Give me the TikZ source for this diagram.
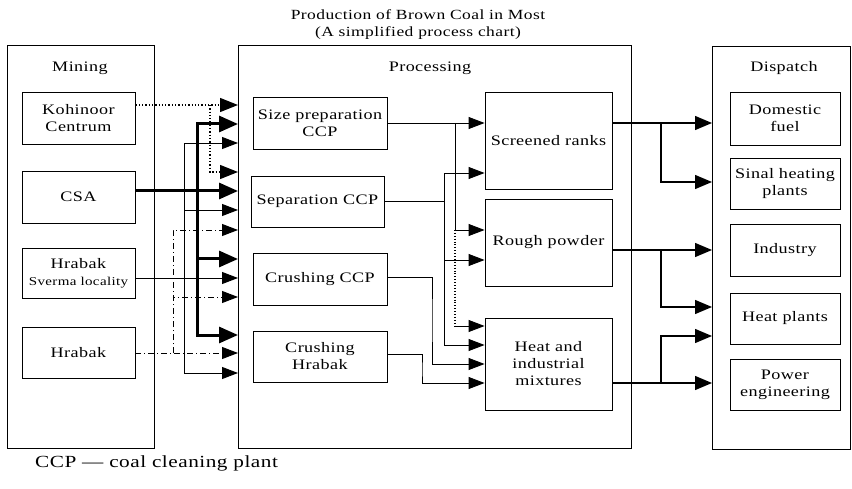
\documentclass[tikz,border=0pt]{standalone}
\usepackage{fontspec}
\setmainfont{Liberation Serif}[FakeStretch=1.25, LetterSpace=3]
\usetikzlibrary{arrows.meta}
\begin{document}
\begin{tikzpicture}[x=1pt,y=-1pt,
  txt/.style={font=\fontsize{14.5}{16}\selectfont, align=center, inner sep=0pt},
  box/.style={draw, line width=0.9pt, align=center, inner sep=0pt, font=\fontsize{14.5}{17}\selectfont},
  frame/.style={draw, line width=0.9pt},
  link/.style={line width=0.9pt, -{Triangle[length=16pt,width=12pt]}},
  plain/.style={line width=0.9pt},
  thicklink/.style={line width=3pt, -{Triangle[length=19pt,width=16pt]}},
  dotlink/.style={line width=1.3pt, dotted, -{Triangle[length=18pt,width=14pt]}},
  dashdotlink/.style={line width=0.9pt, dash pattern=on 6pt off 3pt on 1pt off 3pt, -{Triangle[length=16pt,width=12pt]}},
  outlink/.style={line width=1.3pt, -{Triangle[length=17pt,width=14pt]}}
]
\useasboundingbox (0,0) rectangle (852,489);
% title
\node[txt, font=\fontsize{14}{17}\selectfont] (title) at (418,24.5) {Production of Brown Coal in Most\\(A simplified process chart)};
% frames
\draw[frame] (7,45) rectangle (154,448);
\draw[frame] (238,45) rectangle (631,448);
\draw[frame] (712,46) rectangle (850,449);
\node[txt] (mining) at (80,68) {Mining};
\node[txt] (processing) at (430,68) {Processing};
\node[txt] (dispatch) at (784,68) {Dispatch};
% mining boxes
\node[box, minimum width=113pt, minimum height=52pt] (koh) at (78.5,118) {Kohinoor\\Centrum};
\node[box, minimum width=113pt, minimum height=52pt] (csa) at (78.5,197) {CSA};
\node[box, minimum width=113pt, minimum height=50pt] (sve) at (78.5,273) {Hrabak\\{\fontsize{12}{14}\selectfont Sverma locality}};
\node[box, minimum width=113pt, minimum height=51pt] (hra) at (78.5,352.5) {Hrabak};
% processing boxes
\node[box, minimum width=134pt, minimum height=52pt] (sp) at (320,123) {Size preparation\\CCP};
\node[box, minimum width=133pt, minimum height=51pt] (sep) at (317.5,201.5) {Separation CCP};
\node[box, minimum width=134pt, minimum height=52pt] (cc) at (320,279) {Crushing CCP};
\node[box, minimum width=134pt, minimum height=51pt] (ch) at (320,356.5) {Crushing\\Hrabak};
\node[box, minimum width=127pt, minimum height=97pt] (sr) at (548.5,140.5) {Screened ranks};
\node[box, minimum width=127pt, minimum height=87pt] (rp) at (548.5,242.5) {Rough powder};
\node[box, minimum width=127pt, minimum height=92pt] (hm) at (548.5,364) {Heat and\\industrial\\mixtures};
% dispatch boxes
\node[box, minimum width=110pt, minimum height=53pt] (df) at (785,118.5) {Domestic\\fuel};
\node[box, minimum width=110pt, minimum height=51pt] (sh) at (785,183.5) {Sinal heating\\plants};
\node[box, minimum width=110pt, minimum height=52pt] (ind) at (785,250) {Industry};
\node[box, minimum width=110pt, minimum height=51pt] (hp) at (785,318.5) {Heat plants};
\node[box, minimum width=110pt, minimum height=51pt] (pe) at (785,384.5) {Power\\engineering};
% footnote
\node[txt, font=\fontsize{17}{19}\selectfont, anchor=west] (note) at (35,463) {CCP --- coal cleaning plant};
% processing entry points
\coordinate (i1) at (238,105);
\coordinate (i2) at (238,124);
\coordinate (i3) at (238,143);
\coordinate (i4) at (238,172);
\coordinate (i5) at (238,191);
\coordinate (i6) at (238,210);
\coordinate (i7) at (238,230);
\coordinate (i8) at (238,259);
\coordinate (i9) at (238,278);
\coordinate (i10) at (238,297);
\coordinate (i11) at (238,335);
\coordinate (i12) at (238,353);
\coordinate (i13) at (238,373);
% junctions
\coordinate (jk) at (210,105);
\coordinate (jc) at (197,191);
\coordinate (js) at (184,278);
\coordinate (jh) at (173,353);
% Kohinoor (dotted)
\draw[dotlink] (koh.east |- i1) -- (i1);
\draw[dotlink] (jk) |- (i4);
% CSA (thick)
\draw[thicklink] (csa.east |- i5) -- (i5);
\draw[thicklink] (jc) |- (i2);
\draw[thicklink] (jc) |- (i8);
\draw[thicklink] (jc) |- (i11);
% Hrabak Sverma (thin)
\draw[link] (sve.east |- i9) -- (i9);
\draw[link] (js) |- (i3);
\draw[link] (js) |- (i6);
\draw[link] (js) |- (i13);
% Hrabak (dash-dot)
\draw[dashdotlink] (hra.east |- i12) -- (i12);
\draw[dashdotlink] (jh) |- (i7);
\draw[dashdotlink] (jh) |- (i10);
% processing internal
\coordinate (a1) at (455,123);
\coordinate (a2) at (455,230);
\coordinate (a3) at (455,326);
\draw[link] (sp.east |- a1) -- (sr.west |- a1);
\draw[link] (a1) |- (rp.west |- a2);
\draw[plain, dotted, line width=1.3pt] (a2) -- (a3);
\draw[link] (a3) -- (hm.west |- a3);
\coordinate (b1) at (444,201);
\draw[plain] (sep.east |- b1) -- (b1);
\draw[link] (b1) |- (sr.west |- 0,173);
\draw[link] (b1) |- (rp.west |- 0,260);
\draw[link] (b1) |- (hm.west |- 0,345);
\coordinate (c1) at (432,277);
\draw[link] (cc.east |- c1) -| (432,320) |- (hm.west |- 0,364);
\coordinate (d1) at (422,354);
\draw[link] (ch.east |- d1) -| (422,370) |- (hm.west |- 0,383);
% dispatch
\coordinate (e1) at (661,123);
\coordinate (e2) at (661,250);
\coordinate (e3) at (661,383);
\draw[outlink] (sr.east |- e1) -- (712,123);
\draw[outlink] (e1) |- (712,182);
\draw[outlink] (rp.east |- e2) -- (712,250);
\draw[outlink] (e2) |- (712,307);
\draw[outlink] (hm.east |- e3) -- (712,383);
\draw[outlink] (e3) |- (712,336);
\end{tikzpicture}
\end{document}
